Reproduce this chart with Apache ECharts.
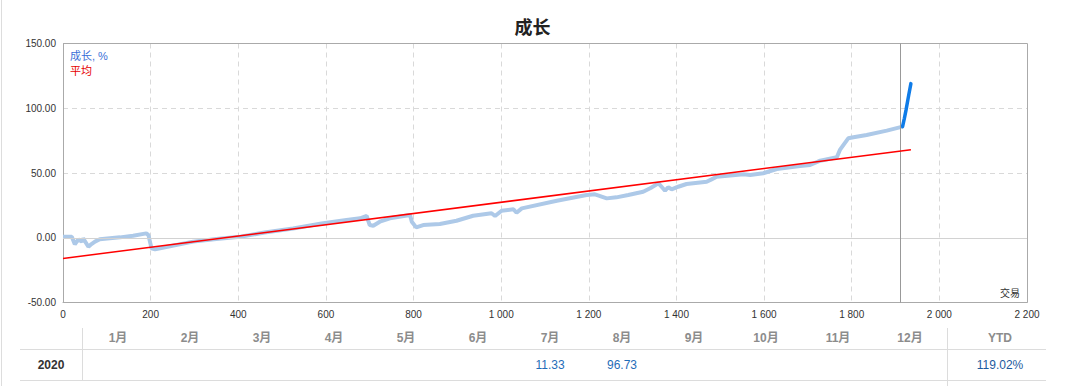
<!DOCTYPE html>
<html>
<head>
<meta charset="utf-8">
<script src="https://cdn.jsdelivr.net/npm/echarts@6/dist/echarts.min.js"></script>
<style>
html,body{margin:0;padding:0;background:#fff;}
#c{width:1065px;height:386px;}
</style>
</head>
<body>
<div id="c"></div>
<script>
// ---- data ----
const trades = [0,20,27,35,43,46,58,65,73,84,130,160,190,195,202,210,230,297,350,404,460,525,590,647,678,693,700,708,723,746,792,796,806,822,860,898,936,978,986,1001,1028,1035,1047,1127,1195,1214,1241,1263,1290,1324,1340,1359,1366,1374,1381,1389,1404,1423,1469,1480,1492,1553,1568,1598,1629,1682,1705,1728,1766,1773,1792,1804,1834,1880,1916];
const growth = [0.8,0.8,-5,-1.2,-3,-0.5,-7,-4.9,-3,-1.2,0.3,1.5,3.4,2,-8.2,-9,-7.5,-3,-1,0.8,4,7.2,11,13.7,15,16.8,9.8,9.3,12.4,15,17.5,12.4,8,9.8,10.6,13.1,17,18.9,16.8,20.9,22,19.3,22.7,28.6,33,33.5,30.4,31.2,33,35.5,38.2,42,39.4,36.3,39,37.4,39.4,41.5,43.3,45.1,47.1,49,48.5,49.8,53.1,55.4,56.2,59.5,62.1,67.8,76.8,77.6,79.4,82.7,85.8];
const latestTrades = [1916,1920,1924,1930,1935];
const latestGrowth = [85.8,92,98.7,110,119.02];
const avgTrades = [0,1935];
const avgGrowth = [-16,68];
const currentTrade = 1911;
const months = ['1月','2月','3月','4月','5月','6月','7月','8月','9月','10月','11月','12月'];
const monthValues = [null,null,null,null,null,null,'11.33','96.73',null,null,null,null];
const yearLabel = '2020';
const ytdLabel = 'YTD';
const ytdValue = '119.02%';

const FONT = '"Liberation Sans", Arial, "Noto Sans CJK SC", sans-serif';

const chart = echarts.init(document.getElementById('c'), null, {renderer:'svg'});

const graphics = [];
graphics.push({type:'line', shape:{x1:1.5,y1:0,x2:1.5,y2:386}, style:{stroke:'#dddddd',lineWidth:1}, silent:true});
graphics.push({type:'text', x:1020, y:293, style:{text:'交易', font:'10px '+FONT, fill:'#333', align:'right', verticalAlign:'middle'}, silent:true});
// plot frame (solid) drawn above the dashed grid lines
graphics.push({type:'rect', shape:{x:63.5,y:43.5,width:964,height:259}, style:{fill:null, stroke:'#aaaaaa', lineWidth:1}, silent:true, z:1});
// table
graphics.push({type:'line', shape:{x1:20,y1:349.5,x2:1046,y2:349.5}, style:{stroke:'#dcdcdc',lineWidth:1}, silent:true});
graphics.push({type:'line', shape:{x1:20,y1:380.5,x2:1046,y2:380.5}, style:{stroke:'#dcdcdc',lineWidth:1}, silent:true});
graphics.push({type:'line', shape:{x1:82.5,y1:328,x2:82.5,y2:381}, style:{stroke:'#dcdcdc',lineWidth:1}, silent:true});
graphics.push({type:'line', shape:{x1:947.5,y1:328,x2:947.5,y2:386}, style:{stroke:'#dcdcdc',lineWidth:1}, silent:true});
months.forEach((m,i)=>{
  graphics.push({type:'text', x:118+72*i, y:338, style:{text:m, font:'bold 12px '+FONT, fill:'#8c8c8c', align:'center', verticalAlign:'middle'}, silent:true});
  if (monthValues[i]) {
    graphics.push({type:'text', x:118+72*i, y:365, style:{text:monthValues[i], font:'12px '+FONT, fill:'#1f6db8', align:'center', verticalAlign:'middle'}, silent:true});
  }
});
graphics.push({type:'text', x:1000, y:338, style:{text:ytdLabel, font:'bold 12px '+FONT, fill:'#8c8c8c', align:'center', verticalAlign:'middle'}, silent:true});
graphics.push({type:'text', x:51, y:365, style:{text:yearLabel, font:'bold 12px '+FONT, fill:'#333', align:'center', verticalAlign:'middle'}, silent:true});
graphics.push({type:'text', x:1000, y:365, style:{text:ytdValue, font:'12px '+FONT, fill:'#1d5a9e', align:'center', verticalAlign:'middle'}, silent:true});

chart.setOption({
  animation:false,
  textStyle:{fontFamily:FONT},
  title:{text:'成长', left:'center', top:14, textStyle:{fontSize:18, fontWeight:'bold', color:'#222', fontFamily:FONT}},
  legend:{
    orient:'vertical', left:60, top:45, icon:'none', itemWidth:0, itemHeight:11, itemGap:4,
    selectedMode:false,
    textStyle:{fontSize:11, fontFamily:FONT, padding:0},
    data:[{name:'成长, %', textStyle:{color:'#3a6fd8'}},{name:'平均', textStyle:{color:'#e60000'}}]
  },
  grid:{left:63, right:38, top:43.5, bottom:83.5, show:false},
  xAxis:{
    type:'value', min:0, max:2200, interval:200,
    axisLine:{show:true, onZero:false, lineStyle:{color:'#aaaaaa'}},
    axisTick:{show:false},
    axisLabel:{color:'#333', fontSize:10, margin:7, fontFamily:FONT,
      formatter:v=>String(v).replace(/\B(?=(\d{3})+(?!\d))/g,' ')},
    splitLine:{show:true, showMinLine:false, showMaxLine:false, lineStyle:{color:'#d9d9d9', type:[5,4]}}
  },
  yAxis:{
    type:'value', min:-50, max:150, interval:50,
    axisLine:{show:true, lineStyle:{color:'#aaaaaa'}},
    axisTick:{show:false},
    axisLabel:{color:'#333', fontSize:10, margin:7, fontFamily:FONT, formatter:v=>v.toFixed(2)},
    splitLine:{show:true, showMinLine:false, showMaxLine:false, lineStyle:{color:'#d9d9d9', type:[5,4]}}
  },
  series:[
    {
      name:'成长, %', type:'line', showSymbol:false, symbol:'none',
      data:trades.map((t,i)=>[t,growth[i]]),
      lineStyle:{color:'#adc9e8', width:4}, itemStyle:{color:'#3a6fd8'},
      z:3,
      markLine:{silent:true, symbol:'none', label:{show:false},
        data:[{yAxis:0, lineStyle:{color:'#d2d2d2', type:'solid', width:1}},
              {xAxis:currentTrade, lineStyle:{color:'#999999', type:'solid', width:1}}]}
    },
    {
      name:'latest', type:'line', showSymbol:false, symbol:'none',
      data:latestTrades.map((t,i)=>[t,latestGrowth[i]]),
      lineStyle:{color:'#0f7ce8', width:3.5, cap:'round'}, z:4
    },
    {
      name:'平均', type:'line', showSymbol:false, symbol:'none',
      data:avgTrades.map((t,i)=>[t,avgGrowth[i]]),
      lineStyle:{color:'#ff0000', width:1.5}, itemStyle:{color:'#e60000'}, z:5
    }
  ],
  graphic:graphics
});
</script>
</body>
</html>
